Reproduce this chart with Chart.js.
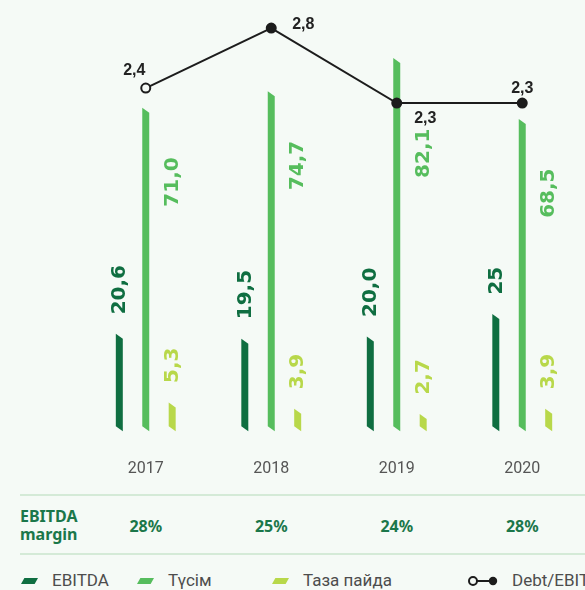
<!DOCTYPE html>
<html><head><meta charset="utf-8">
<script src="https://cdn.jsdelivr.net/npm/chart.js@4.4.0/dist/chart.umd.min.js"></script>
<style>
html,body{margin:0;padding:0;background:#f5faf6;}
#wrap{position:relative;width:585px;height:590px;overflow:hidden;background:#f5faf6;}
#c{position:absolute;left:0;top:0;}
.hline{position:absolute;left:20px;width:565px;height:2px;background:#d4ead7;}
.tbl{position:absolute;font-family:'Noto Sans',sans-serif;font-weight:700;color:#1b774a;font-size:16px;line-height:18px;white-space:nowrap;}
.val{transform:translateX(-50%);}
.leg{position:absolute;font-family:Roboto,sans-serif;font-size:17px;line-height:20px;color:#4d4d4d;white-space:nowrap;top:570px;}
.sw{position:absolute;width:17px;height:6px;top:578px;clip-path:polygon(20% 0,100% 0,80% 100%,0 100%);}
</style></head>
<body><div id="wrap">
<canvas id="c" width="585" height="490"></canvas>
<div class="hline" style="top:494px"></div>
<div class="hline" style="top:553px"></div>
<div class="tbl" style="left:20px;top:507px">EBITDA<br>margin</div>
<div id="margins"></div>
<div id="legend"></div>
</div>
<script>
const years = ['2017', '2018', '2019', '2020'];
const ebitda = [20.6, 19.5, 20.0, 25];
const ebitdaText = ['20,6', '19,5', '20,0', '25'];
const revenue = [71.0, 74.7, 82.1, 68.5];
const netProfit = [5.3, 3.9, 2.7, 3.9];
const debtEbitda = [2.4, 2.8, 2.3, 2.3];
const ebitdaMargin = [28, 25, 24, 28];
const seriesNames = ['EBITDA', 'Түсім', 'Таза пайда', 'Debt/EBITDA'];

const BG = '#f5faf6';
const C_EB = '#0f6e41', C_REV = '#56bd5d', C_NP = '#b8d84a', C_LINE = '#1c1c1c';
const fmt = v => v.toFixed(1).replace('.', ',');

const slantBars = {
  id: 'slantBars',
  beforeDatasetsDraw(chart) {
    const ctx = chart.ctx;
    ctx.save();
    chart.data.datasets.forEach((ds, di) => {
      if (ds.type !== 'bar') return;
      const meta = chart.getDatasetMeta(di);
      meta.data.forEach(el => {
        const w = el.width, x0 = el.x - w / 2, x1 = el.x + w / 2, s = 2.5;
        ctx.beginPath();
        ctx.moveTo(x0, el.y - s);
        ctx.lineTo(x1, el.y + s);
        ctx.lineTo(x1, el.base + s);
        ctx.lineTo(x0, el.base - s);
        ctx.closePath();
        ctx.fillStyle = ds.fillColor;
        ctx.fill();
      });
    });
    ctx.restore();
  },
  afterDatasetsDraw(chart) {
    const ctx = chart.ctx;
    ctx.save();
    ctx.font = 'bold 20px "DejaVu Sans"';
    ctx.textBaseline = 'middle';
    const sideOff = [47, 47, 68, 47];
    chart.data.datasets.forEach((ds, di) => {
      if (ds.type !== 'bar') return;
      const meta = chart.getDatasetMeta(di);
      meta.data.forEach((el, i) => {
        ctx.save();
        ctx.fillStyle = ds.fillColor;
        let txt;
        if (ds.labelMode === 'side') {
          txt = fmt(ds.data[i]);
          ctx.translate(el.x + 27, el.y + sideOff[i]); ctx.rotate(-Math.PI / 2);
          ctx.textAlign = 'right';
        } else {
          txt = ds.texts ? ds.texts[i] : fmt(ds.data[i]);
          ctx.translate(el.x + 0.5, el.y - 22); ctx.rotate(-Math.PI / 2);
          ctx.textAlign = 'left';
        }
        ctx.fillText(txt, 0, 0);
        ctx.restore();
      });
    });
    const lineIdx = chart.data.datasets.findIndex(d => d.type === 'line');
    const lmeta = chart.getDatasetMeta(lineIdx);
    const offs = [[-11.5, -13], [32, 0.5], [28.5, 20], [0, -10]];
    ctx.font = 'bold 16px "Liberation Sans"';
    ctx.fillStyle = '#222';
    ctx.textAlign = 'center';
    ctx.textBaseline = 'alphabetic';
    lmeta.data.forEach((pt, i) => {
      ctx.fillText(fmt(debtEbitda[i]), pt.x + offs[i][0], pt.y + offs[i][1]);
    });
    ctx.restore();
  }
};

new Chart(document.getElementById('c'), {
  data: {
    labels: years,
    datasets: [
      { type: 'line', label: seriesNames[3], data: debtEbitda, yAxisID: 'y1', order: 0,
        borderColor: C_LINE, borderWidth: 2, tension: 0, clip: false,
        pointRadius: 4.5, pointHoverRadius: 4.5, pointBorderWidth: 2, pointBorderColor: C_LINE,
        pointBackgroundColor: [BG, C_LINE, C_LINE, C_LINE] },
      { type: 'bar', label: seriesNames[0], data: ebitda, texts: ebitdaText, yAxisID: 'y', order: 1,
        backgroundColor: 'rgba(0,0,0,0)', fillColor: C_EB, labelMode: 'top' },
      { type: 'bar', label: seriesNames[1], data: revenue, yAxisID: 'y', order: 1,
        backgroundColor: 'rgba(0,0,0,0)', fillColor: C_REV, labelMode: 'side' },
      { type: 'bar', label: seriesNames[2], data: netProfit, yAxisID: 'y', order: 1,
        backgroundColor: 'rgba(0,0,0,0)', fillColor: C_NP, labelMode: 'top' }
    ]
  },
  options: {
    responsive: false,
    animation: false,
    events: [],
    categoryPercentage: 0.632,
    barPercentage: 0.264,
    layout: { autoPadding: false, padding: { left: 83, right: 0, top: 0, bottom: 11.3 } },
    plugins: { legend: { display: false }, tooltip: { enabled: false } },
    scales: {
      x: { grid: { display: false, drawTicks: false }, border: { display: false },
           afterFit(scale) { scale.height = 50; },
           ticks: { color: '#555', padding: 31, font: { family: 'Roboto', size: 16 } } },
      y: { display: false, min: 0, max: 95.6 },
      y1: { display: false, min: 0.13, max: 2.9867 }
    }
  },
  plugins: [slantBars]
});

const mWrap = document.getElementById('margins');
const centers = years.map((_, i) => 83 + (502 / 4) * (i + 0.5));
ebitdaMargin.forEach((m, i) => {
  const d = document.createElement('div');
  d.className = 'tbl val';
  d.style.left = centers[i] + 'px';
  d.style.top = '517px';
  d.textContent = m + '%';
  mWrap.appendChild(d);
});

const lg = document.getElementById('legend');
const legItems = [
  { sw: 21, tx: 52, color: C_EB },
  { sw: 137, tx: 168, color: C_REV },
  { sw: 272, tx: 303, color: C_NP },
  { sw: null, tx: 512 }
];
legItems.forEach((it, i) => {
  if (it.sw !== null) {
    const s = document.createElement('div');
    s.className = 'sw'; s.style.left = it.sw + 'px'; s.style.background = it.color;
    lg.appendChild(s);
  } else {
    const svg = document.createElementNS('http://www.w3.org/2000/svg', 'svg');
    svg.setAttribute('width', '36'); svg.setAttribute('height', '12');
    svg.style.position = 'absolute'; svg.style.left = '464px'; svg.style.top = '575px';
    svg.innerHTML = '<line x1="13" y1="6" x2="26" y2="6" stroke="#1c1c1c" stroke-width="2"/>' +
      '<circle cx="9" cy="6" r="4" fill="#f5faf6" stroke="#1c1c1c" stroke-width="2"/>' +
      '<circle cx="29" cy="6" r="4.2" fill="#1c1c1c"/>';
    lg.appendChild(svg);
  }
  const t = document.createElement('div');
  t.className = 'leg'; t.style.left = it.tx + 'px'; t.textContent = seriesNames[i];
  lg.appendChild(t);
});
</script>
</body></html>
